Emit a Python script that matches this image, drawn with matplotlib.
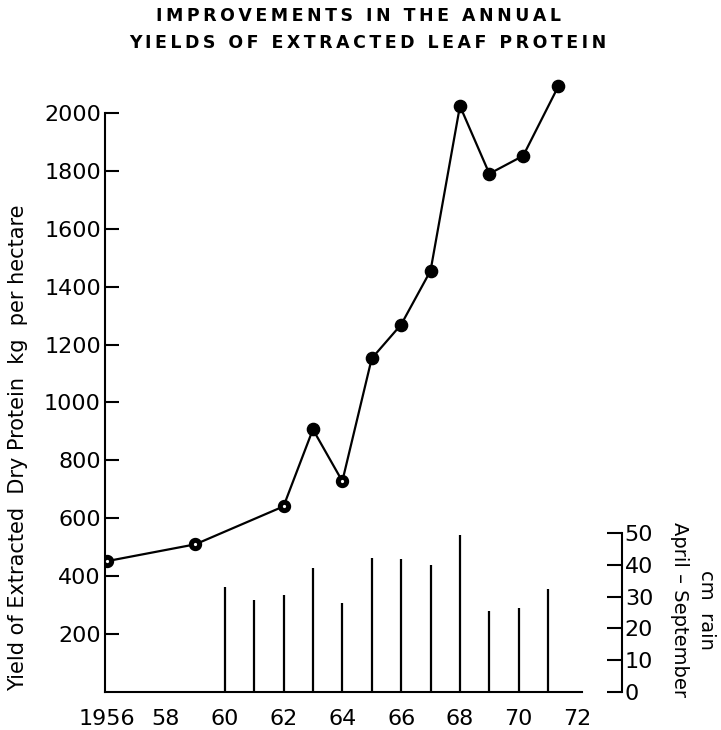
import matplotlib
matplotlib.use("Agg")
import matplotlib.pyplot as plt

# ---- data ----
years = [1956, 1959, 1962, 1963, 1964, 1965, 1966, 1967, 1968, 1969, 1970.15, 1971.35]
yield_kg = [452, 510, 641, 907, 728, 1152, 1269, 1455, 2024, 1790, 1852, 2093]
ringed = [True, True, True, False, True, False, False, False, False, False, False, False]

rain_years = [1960, 1961, 1962, 1963, 1964, 1965, 1966, 1967, 1968, 1969, 1970, 1971]
rain_cm = [33, 29, 30.5, 39, 28, 42, 41.7, 40, 49.4, 25.5, 26.5, 32.5]

yticks = [200, 400, 600, 800, 1000, 1200, 1400, 1600, 1800, 2000]
xticks = [1956, 1958, 1960, 1962, 1964, 1966, 1968, 1970, 1972]
xticklabels = ["1956", "58", "60", "62", "64", "66", "68", "70", "72"]
rticks = [0, 10, 20, 30, 40, 50]

title_lines = ["IMPROVEMENTS IN THE ANNUAL", "YIELDS OF EXTRACTED LEAF PROTEIN"]

W, H = 721, 730
fig = plt.figure(figsize=(W / 100, H / 100), dpi=100)
left, right, bottom, top = 105, 582, 692, 69.5
ax = fig.add_axes([left / W, (H - bottom) / H, (right - left) / W, (bottom - top) / H])

ax.set_xlim(1955.93, 1972.15)
ax.set_ylim(0, 2150)

# line
ax.plot(years, yield_kg, color="black", lw=1.6, zorder=3)
for x, y, r in zip(years, yield_kg, ringed):
    if r:
        ax.plot([x], [y], marker="o", ms=6.0, mfc="white", mec="black", mew=3.6, zorder=4)
    else:
        ax.plot([x], [y], marker="o", ms=8.8, mfc="black", mec="black", mew=1, zorder=4)

for s in ["top", "right"]:
    ax.spines[s].set_visible(False)
ax.spines["left"].set_bounds(0, 2000)
ax.spines["left"].set_linewidth(1.5)
ax.spines["bottom"].set_linewidth(1.5)

ax.set_yticks(yticks)
ax.set_yticklabels([str(v) for v in yticks])
ax.tick_params(axis="y", direction="in", length=10, width=1.5, pad=3, labelsize=16)
ax.set_xticks(xticks)
ax.set_xticklabels(xticklabels)
ax.tick_params(axis="x", length=0, pad=12, labelsize=16)

ax.set_ylabel("Yield of Extracted  Dry Protein  kg  per hectare", fontsize=15)
ax.yaxis.set_label_coords(-(105 - 28) / (right - left), (692 - 448) / (bottom - top))

# rain axis
ax2 = ax.twinx()
ax2.set_ylim(0, 50 * (bottom - top) / (693 - 534))
ax2.vlines(rain_years, 0, rain_cm, color="black", lw=1.6)
for s in ["top", "left", "bottom"]:
    ax2.spines[s].set_visible(False)
ax2.spines["right"].set_position(("axes", (622 - left) / (right - left)))
ax2.spines["right"].set_bounds(0, 50)
ax2.spines["right"].set_linewidth(1.5)
ax2.set_yticks(rticks)
ax2.set_yticklabels([str(v) for v in rticks])
ax2.tick_params(axis="y", direction="in", length=11, width=1.5, pad=2, labelsize=16)

fig.text(693 / W, 1 - 610 / H, "cm  rain\nApril – September", rotation=270,
         ha="center", va="center", multialignment="center", fontsize=14, linespacing=1.5)

thin = "\u2009"
for line, cx, cy in zip(title_lines, [359, 368], [16, 43]):
    fig.text(cx / W, 1 - cy / H, thin.join(list(line)),
             ha="center", va="center", fontsize=12.5, fontweight="bold")

fig.savefig("out.png", dpi=100)
